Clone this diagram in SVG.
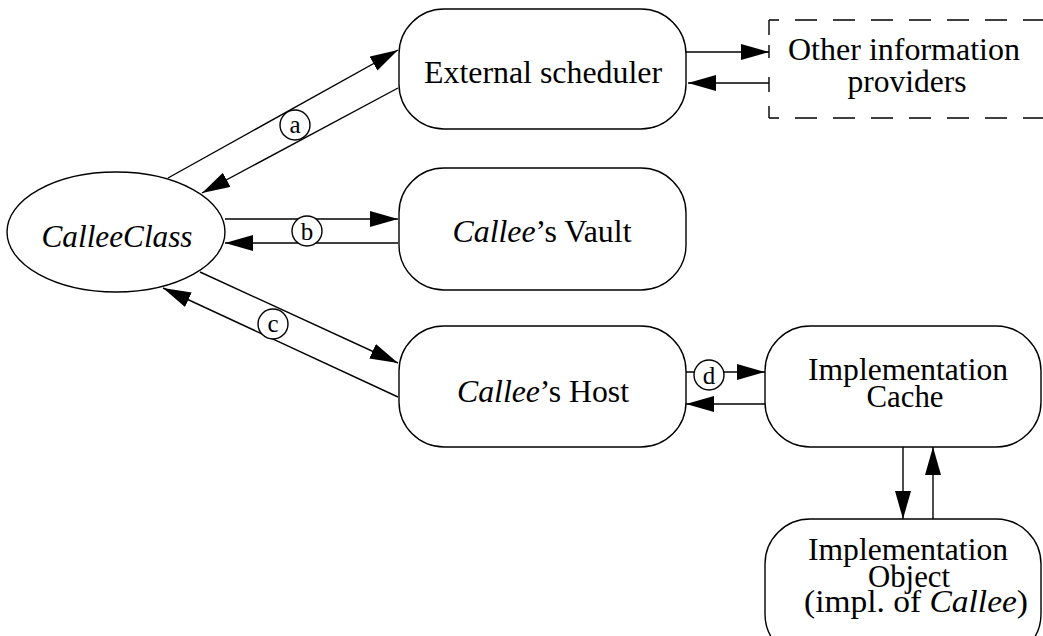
<svg xmlns="http://www.w3.org/2000/svg" width="1043" height="636" viewBox="0 0 1043 636">
<style>
.shape{fill:#fff;stroke:#000;stroke-width:1.4}
.conn{stroke:#000;stroke-width:1.4;fill:none}
.lbl{font-family:"Liberation Serif","Times New Roman",serif;font-size:31px;fill:#000;text-anchor:middle}
.tag{font-family:"Liberation Serif","Times New Roman",serif;font-size:25px;fill:#000;text-anchor:middle}
.it{font-style:italic}
.dash{stroke:#000;stroke-width:1.4;fill:none;stroke-dasharray:22 16}
</style>
<defs>
<marker id="ah" markerUnits="userSpaceOnUse" markerWidth="30" markerHeight="18" refX="28" refY="8" orient="auto">
<path d="M0,0 L28,8 L0,16 Z" fill="#000"/>
</marker>
</defs>
<rect width="1043" height="636" fill="#fff"/>

<g id="connectors">
<line class="conn" x1="168" y1="178" x2="398" y2="50" marker-end="url(#ah)"/>
<line class="conn" x1="398" y1="88" x2="202" y2="193" marker-end="url(#ah)"/>
<line class="conn" x1="225" y1="219" x2="398" y2="219" marker-end="url(#ah)"/>
<line class="conn" x1="398" y1="243" x2="225" y2="243" marker-end="url(#ah)"/>
<line class="conn" x1="200" y1="272" x2="398" y2="363" marker-end="url(#ah)"/>
<line class="conn" x1="398" y1="397" x2="163" y2="288" marker-end="url(#ah)"/>
<line class="conn" x1="686" y1="52" x2="769" y2="52" marker-end="url(#ah)"/>
<line class="conn" x1="769" y1="83" x2="688" y2="83" marker-end="url(#ah)"/>
<line class="conn" x1="686" y1="372" x2="765" y2="372" marker-end="url(#ah)"/>
<line class="conn" x1="765" y1="404" x2="686" y2="404" marker-end="url(#ah)"/>
<line class="conn" x1="903" y1="447" x2="903" y2="519" marker-end="url(#ah)"/>
<line class="conn" x1="933" y1="519" x2="933" y2="447" marker-end="url(#ah)"/>
<g id="tag-a"><circle class="shape" cx="295" cy="125" r="15"/><text class="tag" x="295" y="133">a</text></g>
<g id="tag-b"><circle class="shape" cx="307" cy="231" r="15"/><text class="tag" x="307" y="240">b</text></g>
<g id="tag-c"><circle class="shape" cx="273" cy="324" r="15"/><text class="tag" x="273" y="332">c</text></g>
<g id="tag-d"><circle class="shape" cx="709" cy="375" r="15"/><text class="tag" x="709" y="384">d</text></g>
</g>

<g id="calleeclass">
<ellipse class="shape" cx="116" cy="232" rx="109" ry="60"/>
<text class="lbl it" x="117" y="247" textLength="151" lengthAdjust="spacingAndGlyphs">CalleeClass</text>
</g>

<g id="external-scheduler">
<rect class="shape" x="399" y="9" width="287" height="120" rx="45" ry="45"/>
<text class="lbl" x="543" y="83" textLength="238" lengthAdjust="spacingAndGlyphs">External scheduler</text>
</g>

<g id="other-providers">
<path class="dash" d="M769,20 H1060" stroke-dashoffset="12"/>
<path class="dash" d="M769,118 H1060" stroke-dashoffset="12"/>
<path class="conn" d="M769,20 V35 M769,45 V58 M769,77 V92 M769,106 V118"/>
<text class="lbl" x="904" y="60" textLength="232" lengthAdjust="spacingAndGlyphs">Other information</text>
<text class="lbl" x="907" y="92" textLength="119" lengthAdjust="spacingAndGlyphs">providers</text>
</g>

<g id="callee-vault">
<rect class="shape" x="399" y="168" width="287" height="122" rx="45" ry="45"/>
<text class="lbl" x="542" y="242" textLength="179" lengthAdjust="spacingAndGlyphs"><tspan class="it">Callee</tspan>’s Vault</text>
</g>

<g id="callee-host">
<rect class="shape" x="399" y="326" width="287" height="121" rx="45" ry="45"/>
<text class="lbl" x="543" y="402" textLength="172" lengthAdjust="spacingAndGlyphs"><tspan class="it">Callee</tspan>’s Host</text>
</g>

<g id="impl-cache">
<rect class="shape" x="765" y="326" width="276" height="121" rx="45" ry="45"/>
<text class="lbl" x="908" y="380" textLength="200" lengthAdjust="spacingAndGlyphs">Implementation</text>
<text class="lbl" x="905" y="407" textLength="77" lengthAdjust="spacingAndGlyphs">Cache</text>
</g>

<g id="impl-object">
<rect class="shape" x="765" y="519" width="276" height="140" rx="45" ry="45"/>
<text class="lbl" x="908" y="560" textLength="200" lengthAdjust="spacingAndGlyphs">Implementation</text>
<text class="lbl" x="909" y="587" textLength="82" lengthAdjust="spacingAndGlyphs">Object</text>
<text class="lbl" x="916" y="612" textLength="224" lengthAdjust="spacingAndGlyphs">(impl. of <tspan class="it">Callee</tspan>)</text>
</g>
</svg>
